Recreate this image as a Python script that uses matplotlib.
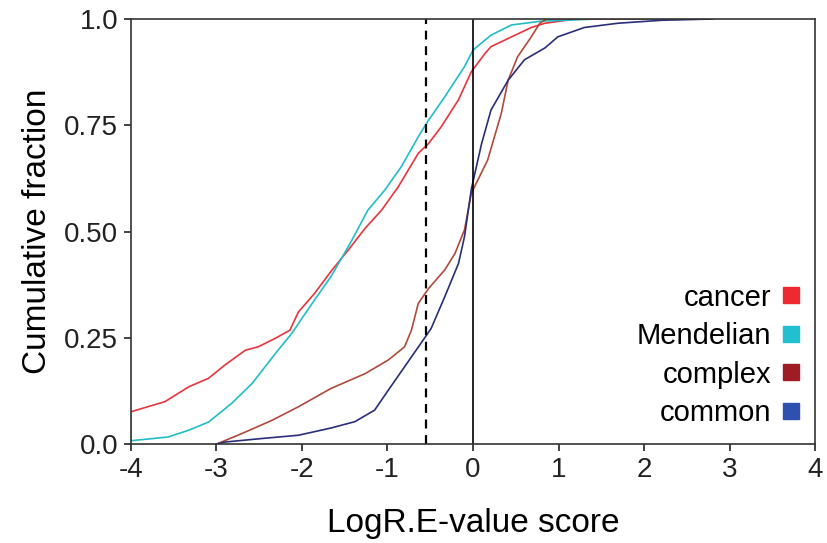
import matplotlib
matplotlib.use("Agg")
import matplotlib.pyplot as plt
from matplotlib.lines import Line2D

plt.rcParams['font.family'] = ['Liberation Sans', 'DejaVu Sans']

cancer_x = [-4.0, -4.0, -3.60, -3.32, -3.09, -2.90, -2.66, -2.51, -2.31, -2.14, -2.04, -1.85, -1.65, -1.46,
            -1.26, -1.07, -0.875, -0.64, -0.52, -0.37, -0.17, -0.02, 0.14, 0.21, 0.45, 0.68, 0.84, 1.2, 2.5]
cancer_y = [0.0, 0.076, 0.10, 0.135, 0.155, 0.186, 0.221, 0.229, 0.249, 0.268, 0.311, 0.355, 0.409, 0.456,
            0.508, 0.55, 0.605, 0.684, 0.707, 0.747, 0.81, 0.876, 0.919, 0.935, 0.958, 0.98, 0.99, 1.0, 1.0]

mend_x = [-4.0, -3.56, -3.32, -3.09, -2.82, -2.58, -2.31, -2.12, -1.88, -1.66, -1.42, -1.23, -1.03, -0.84,
          -0.64, -0.52, -0.33, -0.10, 0.0, 0.21, 0.45, 0.8, 1.46, 2.5]
mend_y = [0.008, 0.017, 0.033, 0.052, 0.096, 0.143, 0.213, 0.26, 0.331, 0.394, 0.478, 0.55, 0.598, 0.652,
          0.723, 0.762, 0.817, 0.888, 0.927, 0.962, 0.986, 0.995, 1.0, 1.0]

complex_x = [-3.0, -2.7, -2.35, -2.04, -1.66, -1.26, -0.99, -0.80, -0.72, -0.64, -0.52, -0.33, -0.21, -0.10,
             -0.02, 0.17, 0.33, 0.41, 0.52, 0.68, 0.78, 0.86, 2.0]
complex_y = [0.0, 0.025, 0.056, 0.088, 0.131, 0.166, 0.198, 0.229, 0.268, 0.331, 0.366, 0.41, 0.449, 0.504,
             0.59, 0.668, 0.778, 0.856, 0.911, 0.958, 0.99, 1.0, 1.0]

common_x = [-3.0, -2.9, -2.43, -2.04, -1.66, -1.38, -1.15, -0.99, -0.80, -0.61, -0.49, -0.33, -0.17, -0.10,
            -0.02, 0.10, 0.21, 0.41, 0.60, 0.84, 0.99, 1.30, 1.69, 2.2, 2.8]
common_y = [0.0, 0.005, 0.014, 0.021, 0.038, 0.053, 0.08, 0.127, 0.182, 0.237, 0.272, 0.347, 0.425, 0.488,
            0.6, 0.707, 0.786, 0.856, 0.904, 0.932, 0.958, 0.98, 0.99, 0.997, 1.0]

labels = ["cancer", "Mendelian", "complex", "common"]
line_colors = ["#e8343c", "#22bcc8", "#b04a3a", "#2a2e78"]
legend_colors = ["#ee2a30", "#20c0d0", "#a01c24", "#3050b0"]

fig = plt.figure(figsize=(8.27, 5.43), dpi=100)
ax = fig.add_axes([0.158, 0.182, 0.828, 0.783])

series = [(cancer_x, cancer_y), (mend_x, mend_y), (complex_x, complex_y), (common_x, common_y)]
for (xs, ys), c in zip(series, line_colors):
    ax.plot(xs, ys, color=c, lw=1.2)

ax.axvline(0, color="black", lw=1.2)
ax.axvline(-0.55, color="black", lw=1.6, ls=(0, (4, 3)))

ax.set_xlim(-4, 4)
ax.set_ylim(0, 1)
ax.set_xticks(range(-4, 5))
ax.set_xticklabels([str(v) for v in range(-4, 5)])
ax.set_yticks([0, 0.25, 0.5, 0.75, 1.0])
ax.set_yticklabels(["0.0", "0.25", "0.50", "0.75", "1.0"])
ax.tick_params(direction="out", length=5, width=1.2, labelsize=20, colors="#222222", pad=4)
for s in ax.spines.values():
    s.set_linewidth(1.2)
    s.set_color("#333333")

ax.set_xlabel("LogR.E-value score", fontsize=24, labelpad=18)
ax.set_ylabel("Cumulative fraction", fontsize=24, labelpad=8)

handles = [Line2D([], [], marker="s", ls="", color=c, markersize=11) for c in legend_colors]
ax.legend(handles, labels, loc="lower right", bbox_to_anchor=(0.982, 0.04), frameon=False,
          markerfirst=False, fontsize=21, handletextpad=0.3, labelspacing=0.36, handlelength=0.8,
          borderpad=0, borderaxespad=0)

fig.savefig("out.png", dpi=100)
